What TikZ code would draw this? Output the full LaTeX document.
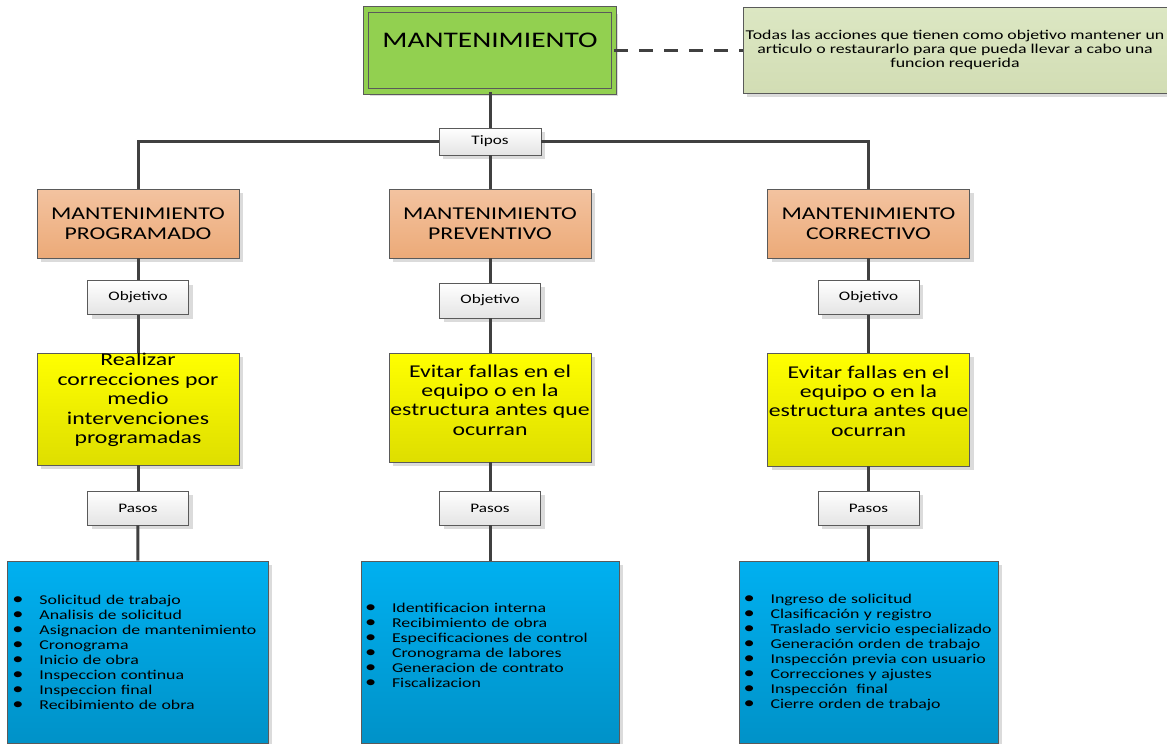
\documentclass[tikz,border=0pt]{standalone}
\usepackage{fontspec}
\setmainfont{Carlito}[FakeStretch=1.32]
\usepackage{tikz}
\usetikzlibrary{shadows}

\definecolor{linegray}{HTML}{404040}
\definecolor{bordergray}{HTML}{5A5A5A}
\definecolor{rootgreen}{HTML}{92D050}
\definecolor{desctop}{HTML}{DCE7C3}
\definecolor{descbot}{HTML}{D2DDB4}
\definecolor{orangetop}{HTML}{F3C3A0}
\definecolor{orangebot}{HTML}{ECAA78}
\definecolor{yellowtop}{HTML}{FFFF00}
\definecolor{yellowbot}{HTML}{DEDE00}
\definecolor{bluetop}{HTML}{00B0F0}
\definecolor{bluebot}{HTML}{0092C8}
\definecolor{labelbot}{HTML}{E4E4E4}

\newcommand{\stepitem}{\makebox[27pt][l]{\fontsize{17}{15}\selectfont\textbullet}}

\tikzset{
    shadowed/.style={drop shadow={shadow xshift=4pt, shadow yshift=-4pt, fill=black!14, opacity=1}},
    rootbox/.style={draw=bordergray, line width=0.9pt, double=rootgreen, double distance=4.6pt, fill=rootgreen, minimum width=248pt, minimum height=82pt, inner sep=0pt, shadowed},
    roottext/.style={inner sep=0pt, font=\fontsize{22.3}{26}\selectfont},
    descbox/.style={draw=bordergray, top color=desctop, bottom color=descbot, minimum width=424pt, minimum height=86pt, inner sep=0pt, align=center, font=\fontsize{13.5}{14}\selectfont, shadowed},
    typebox/.style={draw=bordergray, line width=0.8pt, top color=orangetop, bottom color=orangebot, minimum width=202pt, minimum height=69pt, inner sep=0pt, align=center, font=\fontsize{18}{20.5}\selectfont, shadowed},
    labelbox/.style={draw=bordergray, line width=0.8pt, top color=white, bottom color=labelbot, minimum width=101pt, minimum height=34pt, inner sep=0pt, font=\fontsize{13}{15}\selectfont, shadowed},
    goalbox/.style={draw=bordergray, line width=0.8pt, top color=yellowtop, bottom color=yellowbot, minimum width=202pt, inner sep=0pt, shadowed},
    goaltext/.style={inner sep=0pt, align=center, font=\fontsize{18}{19.4}\selectfont},
    stepsbox/.style={draw=bordergray, line width=0.8pt, top color=bluetop, bottom color=bluebot, minimum width=260pt, minimum height=182pt, text width=250pt, inner xsep=4pt, align=left, font=\fontsize{13.5}{15}\selectfont, shadowed},
    conn/.style={draw=linegray, line width=3pt},
    hintline/.style={conn, dash pattern=on 14pt off 11pt}
}

\begin{document}
\begin{tikzpicture}[x=1pt, y=-1pt]
        \useasboundingbox (0,0) rectangle (1167,744);

        % Nodes
        \node[rootbox] (mant) at (490, 50.5) {};
        \node[roottext] (manttext) at (490, 40) {MANTENIMIENTO};
        \node[descbox] (desc) at (955, 50) {Todas las acciones que tienen como objetivo mantener un\\ articulo o restaurarlo para que pueda llevar a cabo una\\ funcion requerida};
        \node[labelbox, minimum width=102pt, minimum height=27pt] (tipos) at (490, 141.5) {Tipos};

        \node[typebox] (prog) at (138, 223.5) {MANTENIMIENTO\\ PROGRAMADO};
        \node[typebox] (prev) at (490, 223.5) {MANTENIMIENTO\\ PREVENTIVO};
        \node[typebox] (corr) at (868.5, 223.5) {MANTENIMIENTO\\ CORRECTIVO};

        \node[labelbox] (progobj) at (138, 297.5) {Objetivo};
        \node[labelbox, minimum height=35pt] (prevobj) at (490, 300.5) {Objetivo};
        \node[labelbox] (corrobj) at (868.5, 297.5) {Objetivo};

        \node[goalbox, minimum height=112pt] (proggoal) at (138, 409) {};
        \node[goaltext] (proggoaltext) at (138, 400) {Realizar\\ correcciones por\\ medio\\ intervenciones\\ programadas};
        \node[goalbox, minimum height=109pt] (prevgoal) at (490, 407.5) {};
        \node[goaltext] (prevgoaltext) at (490, 400) {Evitar fallas en el\\ equipo o en la\\ estructura antes que\\ ocurran};
        \node[goalbox, minimum height=113pt] (corrgoal) at (868.5, 409.5) {};
        \node[goaltext] (corrgoaltext) at (868.5, 401) {Evitar fallas en el\\ equipo o en la\\ estructura antes que\\ ocurran};

        \node[labelbox] (progpasos) at (138, 508) {Pasos};
        \node[labelbox] (prevpasos) at (490, 508) {Pasos};
        \node[labelbox] (corrpasos) at (868.5, 508) {Pasos};

        \node[stepsbox, minimum width=261pt] (progsteps) at (137.5, 652) {\stepitem Solicitud de trabajo\\ \stepitem Analisis de solicitud\\ \stepitem Asignacion de mantenimiento\\ \stepitem Cronograma\\ \stepitem Inicio de obra\\ \stepitem Inspeccion continua\\ \stepitem Inspeccion final\\ \stepitem Recibimiento de obra};
        \node[stepsbox, minimum width=258pt] (prevsteps) at (490, 652) {\stepitem Identificacion interna\\ \stepitem Recibimiento de obra\\ \stepitem Especificaciones de control\\ \stepitem Cronograma de labores\\ \stepitem Generacion de contrato\\ \stepitem Fiscalizacion\\[-1pt] \mbox{}};
        \node[stepsbox, minimum width=259pt] (corrsteps) at (868.5, 652) {\stepitem Ingreso de solicitud\\ \stepitem Clasificación y registro\\ \stepitem Traslado servicio especializado\\ \stepitem Generación orden de trabajo\\ \stepitem Inspección previa con usuario\\ \stepitem Correcciones y ajustes\\ \stepitem Inspección~ final\\ \stepitem Cierre orden de trabajo};

        % Lines
        \draw[hintline] (mant.east) -- (desc.west |- mant.east);
        \draw[conn] (mant) -- (tipos);
        \draw[conn] (tipos.west) -| (prog.north);
        \draw[conn] (tipos) -- (prev);
        \draw[conn] (tipos.east) -| (corr.north);

        \draw[conn] (prog) -- (progobj);
        \draw[conn] (progobj) -- (proggoal);
        \draw[conn] (proggoal) -- (progpasos);
        \draw[conn] (progpasos) -- (progsteps);

        \draw[conn] (prev) -- (prevobj);
        \draw[conn] (prevobj) -- (prevgoal);
        \draw[conn] (prevgoal) -- (prevpasos);
        \draw[conn] (prevpasos) -- (prevsteps);

        \draw[conn] (corr) -- (corrobj);
        \draw[conn] (corrobj) -- (corrgoal);
        \draw[conn] (corrgoal) -- (corrpasos);
        \draw[conn] (corrpasos) -- (corrsteps);
\end{tikzpicture}
\end{document}
